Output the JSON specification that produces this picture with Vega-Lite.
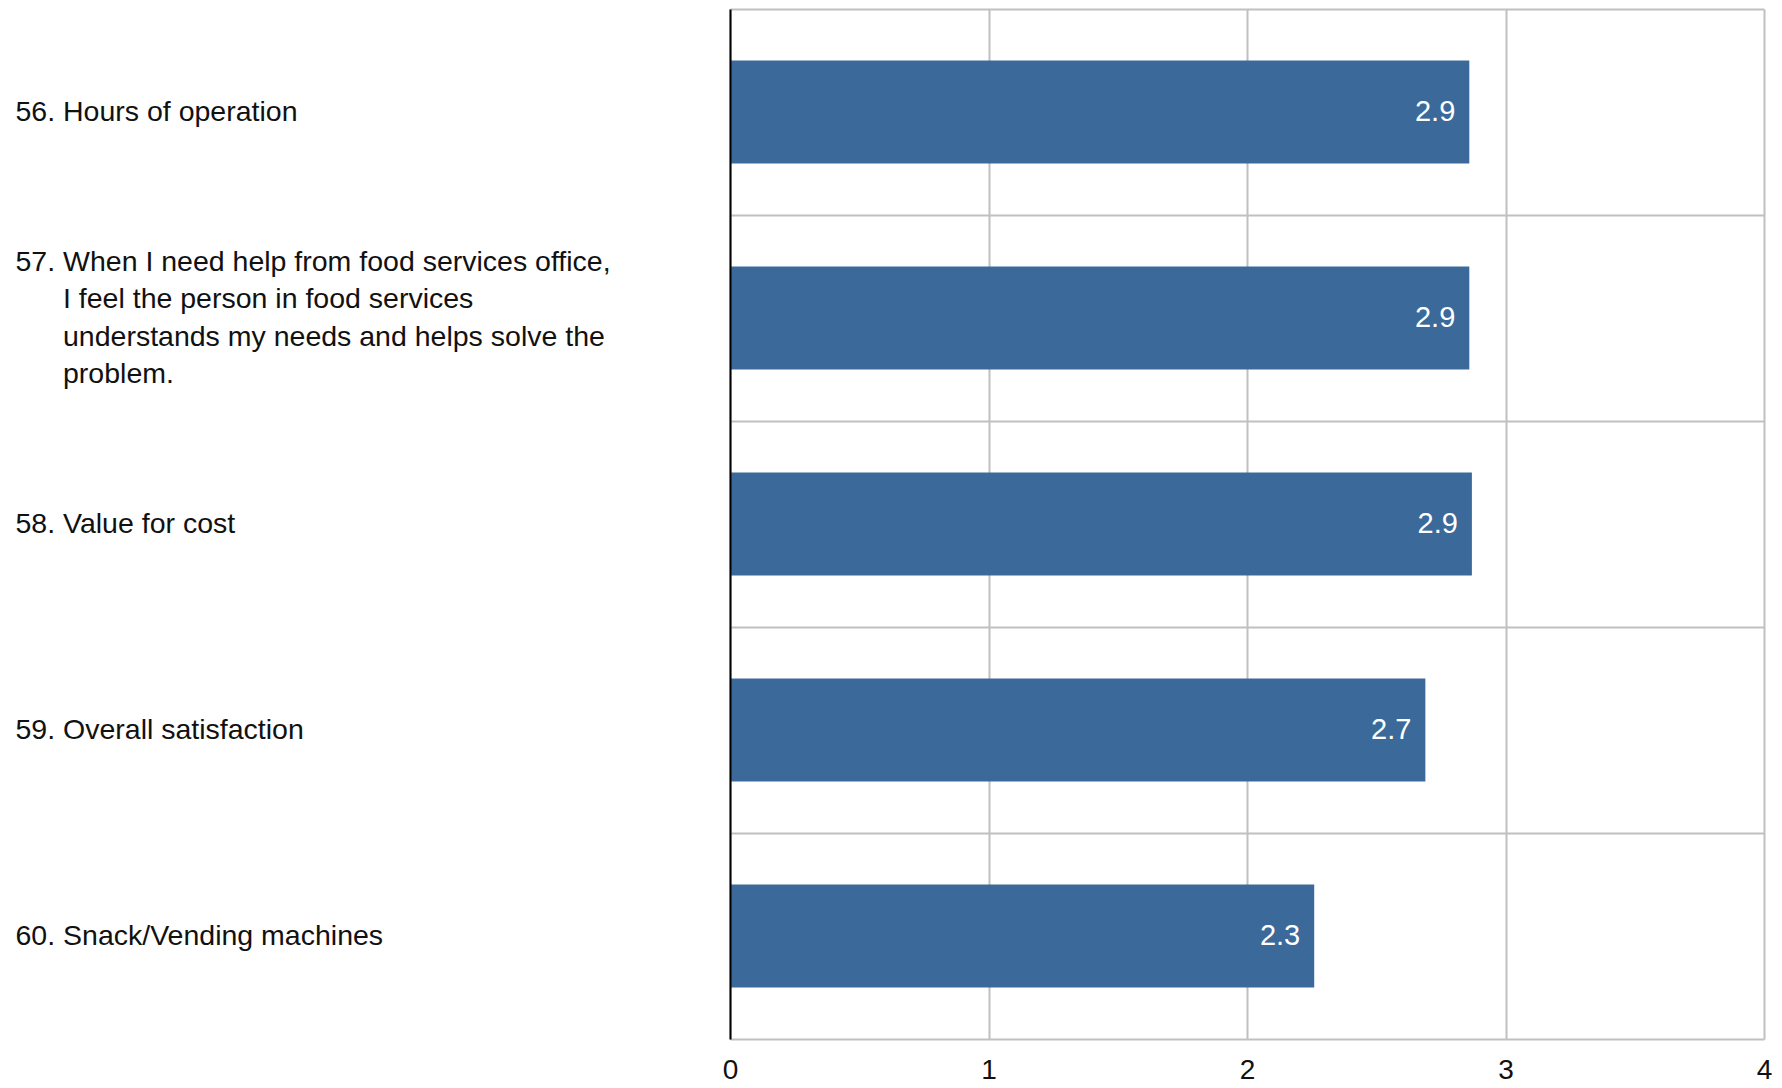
{
  "$schema": "https://vega.github.io/schema/vega-lite/v6.json",
  "width": 1034,
  "height": 1030,
  "autosize": {"type": "none"},
  "padding": {"left": 730, "top": 9, "right": 18, "bottom": 49},
  "background": "white",
  "config": {
    "view": {"stroke": null},
    "font": "Liberation Sans"
  },
  "data": {
    "values": [
      {"item": "\u200b\u00a0|\u200b\u00a0|\u200b\u00a0|56. Hours of operation", "score": 2.86},
      {"item": "57. When I need help from food services office,|\u200b\u00a0|\u200b\u00a0\u00a0\u00a0\u00a0\u00a0\u00a0I feel the person in food services|\u200b\u00a0|\u200b\u00a0\u00a0\u00a0\u00a0\u00a0\u00a0understands my needs and helps solve the|\u200b\u00a0|\u200b\u00a0\u00a0\u00a0\u00a0\u00a0\u00a0problem.", "score": 2.86},
      {"item": "\u200b\u00a0|\u200b\u00a0|\u200b\u00a0|58. Value for cost", "score": 2.87},
      {"item": "\u200b\u00a0|\u200b\u00a0|\u200b\u00a0|59. Overall satisfaction", "score": 2.69},
      {"item": "\u200b\u00a0|\u200b\u00a0|\u200b\u00a0|60. Snack/Vending machines", "score": 2.26}
    ]
  },
  "encoding": {
    "y": {
      "field": "item",
      "type": "nominal",
      "sort": null,
      "scale": {"paddingInner": 0, "paddingOuter": 0},
      "axis": {
        "title": null,
        "labelExpr": "split(datum.label, '|')",
        "labelAlign": "left",
        "labelBaseline": "middle",
        "labelPadding": 715,
        "labelLimit": 0,
        "labelFontSize": 28.5,
        "labelColor": "#111111",
        "labelLineHeight": 18.75,
        "labelOffset": -57,
        "ticks": false,
        "tickSize": 0,
        "tickBand": "extent",
        "grid": true,
        "gridColor": "#c0c0c0",
        "gridWidth": 2,
        "domain": true,
        "domainColor": "#000000",
        "domainWidth": 2,
        "zindex": 1
      }
    },
    "x": {
      "field": "score",
      "type": "quantitative",
      "scale": {"domain": [0, 4], "nice": false},
      "axis": {
        "title": null,
        "values": [0, 1, 2, 3, 4],
        "format": "d",
        "labelFontSize": 28,
        "labelColor": "#111111",
        "labelPadding": 17,
        "labelFlush": false,
        "ticks": false,
        "tickSize": 0,
        "domain": false,
        "grid": true,
        "gridColor": "#c0c0c0",
        "gridWidth": 2
      }
    }
  },
  "layer": [
    {
      "mark": {"type": "bar", "color": "#3b6a9a", "size": 103}
    },
    {
      "mark": {"type": "text", "align": "right", "baseline": "middle", "dx": -14, "color": "white", "fontSize": 29},
      "encoding": {
        "text": {"field": "score", "type": "quantitative", "format": ".1f"}
      }
    }
  ]
}
